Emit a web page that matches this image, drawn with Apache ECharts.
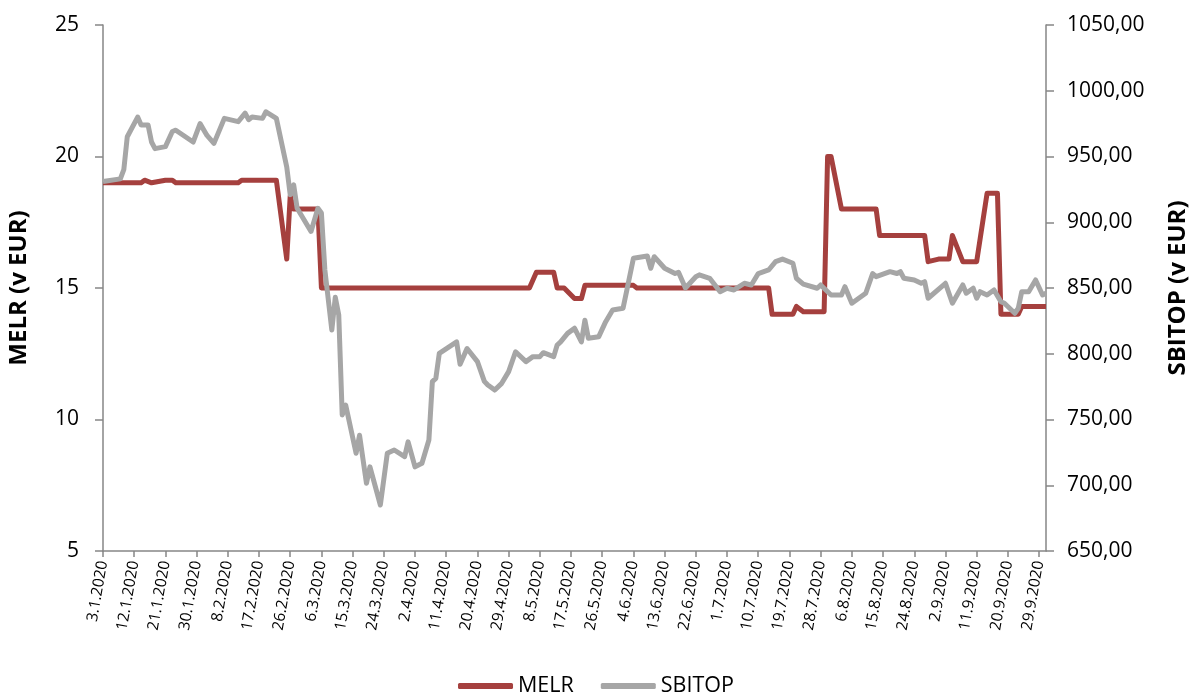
<!DOCTYPE html>
<html><head><meta charset="utf-8">
<script src="https://cdn.jsdelivr.net/npm/echarts@6/dist/echarts.min.js"></script>
<style>html,body{margin:0;padding:0;background:#fff}#c{width:1192px;height:695px}</style>
</head><body><div id="c"></div>
<script>
// Key dates and values (lines join the points)
var melrDates = ['3.1.2020','14.1.2020','15.1.2020','17.1.2020','21.1.2020','23.1.2020','24.1.2020','11.2.2020','12.2.2020','22.2.2020','25.2.2020','26.2.2020','27.2.2020','5.3.2020','6.3.2020','5.5.2020','7.5.2020','12.5.2020','13.5.2020','15.5.2020','18.5.2020','20.5.2020','21.5.2020','4.6.2020','5.6.2020','13.7.2020','14.7.2020','20.7.2020','21.7.2020','23.7.2020','29.7.2020','30.7.2020','31.7.2020','3.8.2020','13.8.2020','14.8.2020','27.8.2020','28.8.2020','31.8.2020','3.9.2020','4.9.2020','7.9.2020','11.9.2020','14.9.2020','17.9.2020','18.9.2020','23.9.2020','24.9.2020','1.10.2020'];
var melrValues = [19.0,19.0,19.1,19.0,19.1,19.1,19.0,19.0,19.1,19.1,16.1,18.5,18.0,18.0,15.0,15.0,15.6,15.6,15.0,15.0,14.6,14.6,15.1,15.1,15.0,15.0,14.0,14.0,14.3,14.1,14.1,20.0,20.0,18.0,18.0,17.0,17.0,16.0,16.1,16.1,17.0,16.0,16.0,18.6,18.6,14.0,14.0,14.3,14.3];

var sbiDates = ['3.1.2020','8.1.2020','9.1.2020','10.1.2020','13.1.2020','14.1.2020','16.1.2020','17.1.2020','18.1.2020','21.1.2020','23.1.2020','24.1.2020','29.1.2020','31.1.2020','2.2.2020','4.2.2020','7.2.2020','11.2.2020','13.2.2020','14.2.2020','15.2.2020','18.2.2020','19.2.2020','22.2.2020','25.2.2020','26.2.2020','27.2.2020','28.2.2020','3.3.2020','5.3.2020','6.3.2020','7.3.2020','9.3.2020','10.3.2020','11.3.2020','12.3.2020','13.3.2020','16.3.2020','17.3.2020','19.3.2020','20.3.2020','23.3.2020','25.3.2020','27.3.2020','30.3.2020','31.3.2020','2.4.2020','4.4.2020','6.4.2020','7.4.2020','8.4.2020','9.4.2020','14.4.2020','15.4.2020','17.4.2020','20.4.2020','22.4.2020','23.4.2020','25.4.2020','27.4.2020','29.4.2020','1.5.2020','4.5.2020','6.5.2020','8.5.2020','9.5.2020','12.5.2020','13.5.2020','14.5.2020','16.5.2020','18.5.2020','20.5.2020','21.5.2020','22.5.2020','25.5.2020','27.5.2020','29.5.2020','1.6.2020','2.6.2020','4.6.2020','8.6.2020','9.6.2020','10.6.2020','13.6.2020','16.6.2020','17.6.2020','19.6.2020','22.6.2020','23.6.2020','26.6.2020','29.6.2020','1.7.2020','3.7.2020','6.7.2020','8.7.2020','10.7.2020','13.7.2020','15.7.2020','17.7.2020','20.7.2020','21.7.2020','23.7.2020','27.7.2020','28.7.2020','31.7.2020','3.8.2020','4.8.2020','6.8.2020','10.8.2020','12.8.2020','13.8.2020','17.8.2020','19.8.2020','20.8.2020','21.8.2020','24.8.2020','26.8.2020','27.8.2020','28.8.2020','2.9.2020','4.9.2020','7.9.2020','8.9.2020','10.9.2020','11.9.2020','12.9.2020','14.9.2020','16.9.2020','18.9.2020','19.9.2020','22.9.2020','23.9.2020','24.9.2020','26.9.2020','28.9.2020','30.9.2020','1.10.2020'];
var sbiValues = [931,933,940,965,980,974,974,961,956,957.5,969,970,961,975,966,960,979,976.5,983,978,980,979,984,979,942,921,928.5,910.6,893,910.6,907,863.7,818,843,829.5,753.4,761,724.3,738,701.5,714,685,724.3,726.8,721.7,733,714,716.7,734.4,778.8,781.3,800.3,809,792,804,794,779,776.2,772.4,777.5,786.4,801.5,794,797.8,797.8,800.8,797.8,806.6,809,815.5,819.4,809,825.5,811.8,813,824.4,833.3,834.6,847.2,872.6,874.3,865,873.8,865,861,862,850,858.6,860,857.4,847.2,849.8,848.5,853.6,852.3,861,863.7,870,872,868.8,857.4,853,849.8,852.3,844.7,844.7,851,838.4,846,861,858.6,862.4,861,862.4,857.4,856.1,853.6,854.8,842.2,853.6,838.4,852.3,846,849.8,842.2,847.2,844.7,848.5,839.6,838.4,830.8,834.6,847.2,847.2,856.1,844.7,846];

var leftTicks = {min: 5, max: 25, interval: 5};
var rightTicks = {min: 650, max: 1050, interval: 50};

// all calendar days of the axis
var categories = [];
(function(){
  var d = new Date(2020, 0, 3), end = new Date(2020, 9, 1);
  while (d <= end) {
    categories.push(d.getDate() + '.' + (d.getMonth() + 1) + '.' + d.getFullYear());
    d.setDate(d.getDate() + 1);
  }
})();

var FONT = 'Open Sans';
var chart = echarts.init(document.getElementById('c'));
chart.setOption({
  animation: false,
  textStyle: {fontFamily: FONT},
  grid: {left: 103, right: 146, top: 25, bottom: 144, containLabel: false, outerBoundsMode: 'none'},
  legend: {
    top: 670, left: 'center', itemGap: 27,
    itemWidth: 55, itemHeight: 6, icon: 'roundRect',
    textStyle: {fontSize: 21.5, color: '#000', fontFamily: FONT},
    data: ['MELR', 'SBITOP']
  },
  xAxis: {
    type: 'category', data: categories, boundaryGap: false,
    axisLine: {lineStyle: {color: '#868686', width: 1.5}},
    axisTick: {interval: 8, length: 6, lineStyle: {color: '#868686', width: 1.5}},
    axisLabel: {interval: 8, rotate: 80, fontSize: 15.5, color: '#000', margin: 10, fontFamily: FONT},
    splitLine: {show: false}
  },
  yAxis: [{
    type: 'value', min: leftTicks.min, max: leftTicks.max, interval: leftTicks.interval,
    name: 'MELR (v EUR)', nameLocation: 'middle', nameGap: 72, nameRotate: 90,
    nameTextStyle: {fontSize: 24, fontWeight: 'bold', color: '#000', fontFamily: FONT},
    axisLine: {show: true, lineStyle: {color: '#868686', width: 1.5}},
    axisTick: {show: true, length: 8, lineStyle: {color: '#868686', width: 1.5}},
    axisLabel: {fontSize: 21, color: '#000', margin: 24, fontFamily: FONT},
    splitLine: {show: false}
  }, {
    type: 'value', min: rightTicks.min, max: rightTicks.max, interval: rightTicks.interval,
    position: 'right',
    name: 'SBITOP (v EUR)', nameLocation: 'middle', nameGap: 120, nameRotate: 90,
    nameTextStyle: {fontSize: 24, fontWeight: 'bold', color: '#000', fontFamily: FONT},
    axisLine: {show: true, lineStyle: {color: '#868686', width: 1.5}},
    axisTick: {show: true, length: 8, lineStyle: {color: '#868686', width: 1.5}},
    axisLabel: {fontSize: 21, color: '#000', margin: 21, fontFamily: FONT,
      formatter: function(v){ return v.toFixed(2).replace('.', ','); }},
    splitLine: {show: false}
  }],
  series: [{
    name: 'MELR', type: 'line', yAxisIndex: 0, showSymbol: false, symbol: 'none',
    lineStyle: {color: '#A5403E', width: 5, join: 'round'},
    itemStyle: {color: '#A5403E'},
    data: melrDates.map(function(d, i){ return [d, melrValues[i]]; })
  }, {
    name: 'SBITOP', type: 'line', yAxisIndex: 1, showSymbol: false, symbol: 'none',
    lineStyle: {color: '#A6A6A6', width: 5, join: 'round'},
    itemStyle: {color: '#A6A6A6'},
    data: sbiDates.map(function(d, i){ return [d, sbiValues[i]]; })
  }]
});
</script></body></html>
